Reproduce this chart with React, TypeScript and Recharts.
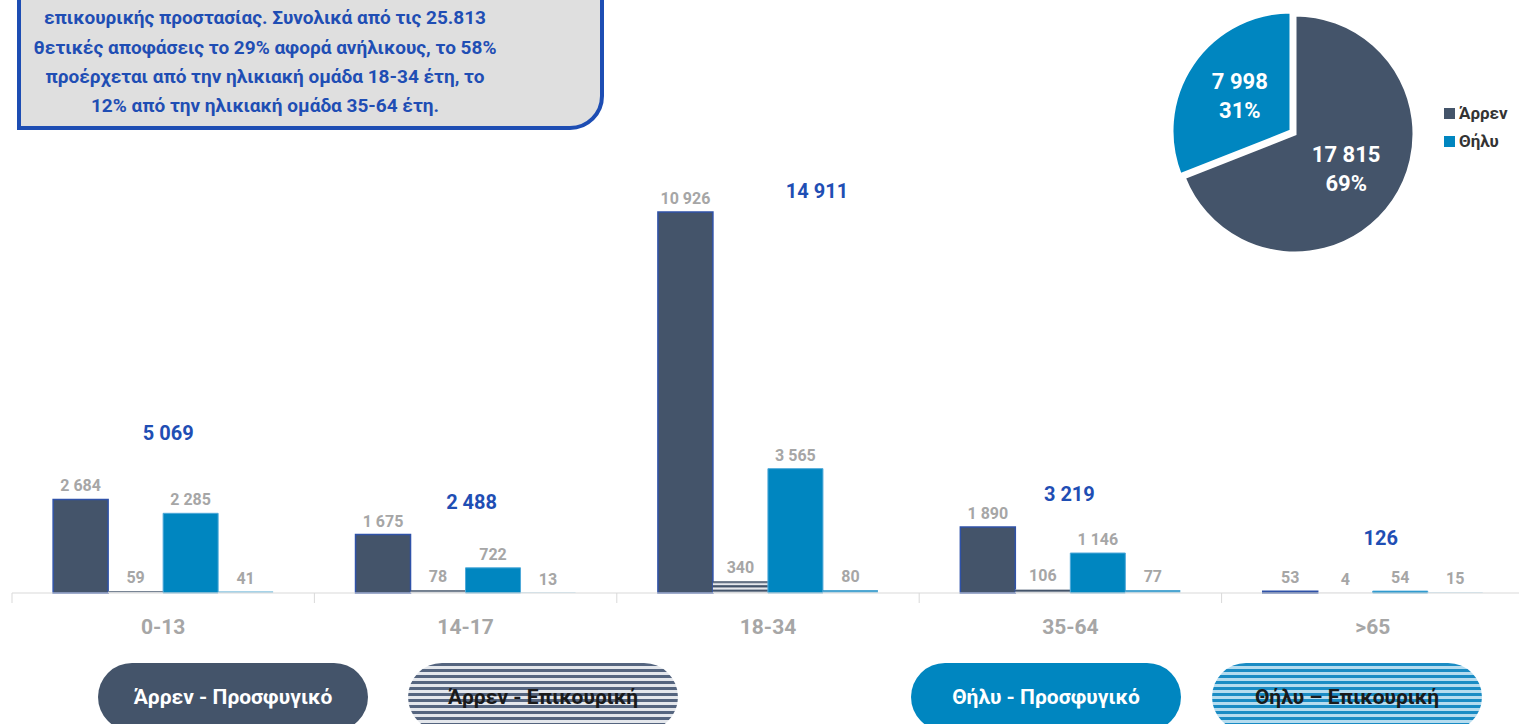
import React from 'react';
import { ComposedChart, Bar, Line, XAxis, YAxis, LabelList, PieChart, Pie, Cell } from 'recharts';

const ageGroups = ['0-13', '14-17', '18-34', '35-64', '>65'];
const maleRefugee = [2684, 1675, 10926, 1890, 53];
const maleSubsidiary = [59, 78, 340, 106, 4];
const femaleRefugee = [2285, 722, 3565, 1146, 54];
const femaleSubsidiary = [41, 13, 80, 77, 15];
// where the blue group totals are pinned (value units) and their sideways nudge
const totalAnchor = [4590, 2610, 11530, 2840, 1580];
const totalNudge = [5, 6, 49, -1, 8];

const seriesNames = ['Άρρεν - Προσφυγικό', 'Άρρεν - Επικουρική', 'Θήλυ - Προσφυγικό', 'Θήλυ – Επικουρική'];

const genderNames = ['Άρρεν', 'Θήλυ'];
const genderTotals = [17815, 7998];

const noteLines = [
  'αφορούν καθεστώς πρόσφυγα και το 3% καθεστώς',
  'επικουρικής προστασίας. Συνολικά από τις 25.813',
  'θετικές αποφάσεις το 29% αφορά ανήλικους, το 58%',
  'προέρχεται από την ηλικιακή ομάδα 18-34 έτη, το',
  '12% από την ηλικιακή ομάδα 35-64 έτη.',
];

const SLATE = '#44546A';
const BLUE = '#0086C0';
const GREY = '#A6A6A6';
const NAVY = '#1F4EB4';
const FONT = 'Roboto, "Noto Sans", sans-serif';

const CHART_W = 1530;
const CHART_H = 724;
const MARGIN = { top: 157, right: 6, bottom: 91, left: 12 };
const band = (CHART_W - MARGIN.left - MARGIN.right) / ageGroups.length;

const fmt = (v: number) => String(v).replace(/\B(?=(\d{3})+(?!\d))/g, ' ');

const data = ageGroups.map((g, i) => ({
  group: g,
  mRef: maleRefugee[i],
  mSub: maleSubsidiary[i],
  fRef: femaleRefugee[i],
  fSub: femaleSubsidiary[i],
  total: maleRefugee[i] + maleSubsidiary[i] + femaleRefugee[i] + femaleSubsidiary[i],
  anchor: totalAnchor[i],
}));

const pieData = genderNames.map((name, i) => ({ name, value: genderTotals[i] }));
const pieColors = [SLATE, BLUE];

const XTick = (props: any) => {
  const { x, y, payload, index } = props;
  const half = band / 2;
  return (
    <g>
      <line x1={x - half} x2={x - half} y1={y} y2={y + 10} stroke="#D9D9D9" />
      {index === ageGroups.length - 1 && (
        <line x1={x + half} x2={x + half} y1={y} y2={y + 10} stroke="#D9D9D9" />
      )}
      <text x={x} y={y + 34} textAnchor="middle" dominantBaseline="central" fill={GREY} fontSize={21} fontWeight={700} fontFamily={FONT}>
        {payload.value}
      </text>
    </g>
  );
};

const TotalLabel = (props: any) => {
  const { x, y, value, index } = props;
  return (
    <text x={x + totalNudge[index]} y={y} textAnchor="middle" dominantBaseline="central" fill={NAVY} fontSize={20} fontWeight={700} fontFamily={FONT}>
      {fmt(value)}
    </text>
  );
};

const barLabel = {
  position: 'top' as const,
  offset: 8,
  fill: GREY,
  fontSize: 16,
  fontWeight: 700,
  fontFamily: FONT,
  formatter: (v: any) => fmt(Number(v)),
};

const RAD = Math.PI / 180;
const pieLabel = (show: number) => (props: any) => {
  const { cx, cy, midAngle, outerRadius, value, percent, index } = props;
  if (index !== show) return null;
  const r = outerRadius * 0.52;
  const x = cx + r * Math.cos(-midAngle * RAD);
  const y = cy + r * Math.sin(-midAngle * RAD);
  return (
    <text x={x} y={y} textAnchor="middle" fill="#FFFFFF" fontSize={22} fontWeight={700} fontFamily={FONT}>
      <tspan x={x} dy={-7}>{fmt(value)}</tspan>
      <tspan x={x} dy={29}>{Math.round(percent * 100)}%</tspan>
    </text>
  );
};

const stripes: Record<number, string> = {
  1: 'repeating-linear-gradient(180deg, #55657F 0px, #55657F 3px, #E4E7EC 3px, #E4E7EC 6px)',
  3: 'repeating-linear-gradient(180deg, #1A8CC4 0px, #1A8CC4 3px, #B5DCEF 3px, #B5DCEF 6px)',
};
const pillFill = [SLATE, '', BLUE, ''];
const pillText = ['#FFFFFF', '#1A1A1A', '#FFFFFF', '#1A1A1A'];
const pillLeft = [98, 408, 911, 1212];

export default function App() {
  return (
    <div style={{ position: 'absolute', left: 0, top: 0, width: 1519, height: 724, overflow: 'hidden', background: '#FFFFFF', fontFamily: FONT }}>
      <div style={{ position: 'absolute', left: 0, top: 0 }}>
        <ComposedChart width={CHART_W} height={CHART_H} data={data} margin={MARGIN} barCategoryGap="13.6%" barGap={0}>
          <defs>
            <pattern id="maleStripes" width="8" height="4.4" patternUnits="userSpaceOnUse">
              <rect width="8" height="4.4" fill="#E6E8EC" />
              <rect width="8" height="2.2" fill={SLATE} />
            </pattern>
            <pattern id="femaleStripes" width="8" height="4.4" patternUnits="userSpaceOnUse">
              <rect width="8" height="4.4" fill="#B5DCEF" />
              <rect width="8" height="2.2" fill="#1A8CC4" />
            </pattern>
          </defs>
          <XAxis dataKey="group" axisLine={{ stroke: '#D9D9D9' }} tickLine={false} tickSize={0} tickMargin={0} height={40} tick={<XTick />} interval={0} />
          <YAxis hide domain={[0, 12500]} />
          <Bar dataKey="mRef" name={seriesNames[0]} fill={SLATE} stroke="#2F52A8" strokeWidth={1.5} isAnimationActive={false}>
            <LabelList dataKey="mRef" {...barLabel} />
          </Bar>
          <Bar dataKey="mSub" name={seriesNames[1]} fill="url(#maleStripes)" isAnimationActive={false}>
            <LabelList dataKey="mSub" {...barLabel} />
          </Bar>
          <Bar dataKey="fRef" name={seriesNames[2]} fill={BLUE} stroke="#4FA9D9" strokeWidth={1} isAnimationActive={false}>
            <LabelList dataKey="fRef" {...barLabel} />
          </Bar>
          <Bar dataKey="fSub" name={seriesNames[3]} fill="url(#femaleStripes)" isAnimationActive={false}>
            <LabelList dataKey="fSub" {...barLabel} />
          </Bar>
          <Line dataKey="anchor" stroke="none" dot={false} activeDot={false} legendType="none" isAnimationActive={false}>
            <LabelList dataKey="total" content={<TotalLabel />} />
          </Line>
        </ComposedChart>
      </div>

      <div style={{ position: 'absolute', left: 1140, top: 0 }}>
        <PieChart width={300} height={260}>
          <Pie data={pieData} dataKey="value" cx={150} cy={129} outerRadius={119} startAngle={90} endAngle={-270}
            stroke="#FFFFFF" strokeWidth={3} labelLine={false} label={pieLabel(0)} isAnimationActive={false}>
            <Cell fill={pieColors[0]} />
            <Cell fill="none" stroke="none" />
          </Pie>
          <Pie data={pieData} dataKey="value" cx={146} cy={126} outerRadius={119} startAngle={90} endAngle={-270}
            stroke="#FFFFFF" strokeWidth={3} labelLine={false} label={pieLabel(1)} isAnimationActive={false}>
            <Cell fill="none" stroke="none" />
            <Cell fill={pieColors[1]} />
          </Pie>
        </PieChart>
      </div>

      <div style={{ position: 'absolute', left: 1444, top: 99 }}>
        {genderNames.map((n, i) => (
          <div key={n} style={{ display: 'flex', alignItems: 'center', height: 28, fontSize: 17, fontWeight: 700, color: '#333333' }}>
            <span style={{ display: 'inline-block', width: 11, height: 11, background: pieColors[i], marginRight: 4 }} />
            {n}
          </div>
        ))}
      </div>

      <div style={{ position: 'absolute', left: 17, top: -70, width: 587, height: 200, boxSizing: 'border-box', background: '#DFDFDF', border: '4px solid #1D4DB3', borderRadius: '0 34px 34px 0' }} />
      <div style={{ position: 'absolute', left: 17, top: -26, width: 496, textAlign: 'center', lineHeight: '29.3px', fontSize: 19, fontWeight: 700, color: NAVY, whiteSpace: 'nowrap' }}>
        {noteLines.map((l) => (
          <div key={l}>{l}</div>
        ))}
      </div>

      {seriesNames.map((n, i) => (
        <div key={n} style={{
          position: 'absolute', left: pillLeft[i], top: 663, width: 270, height: 68, borderRadius: 34,
          background: stripes[i] || pillFill[i], color: pillText[i], fontSize: 21, fontWeight: 700,
          display: 'flex', alignItems: 'center', justifyContent: 'center', lineHeight: 1,
        }}>
          {n}
        </div>
      ))}
    </div>
  );
}
